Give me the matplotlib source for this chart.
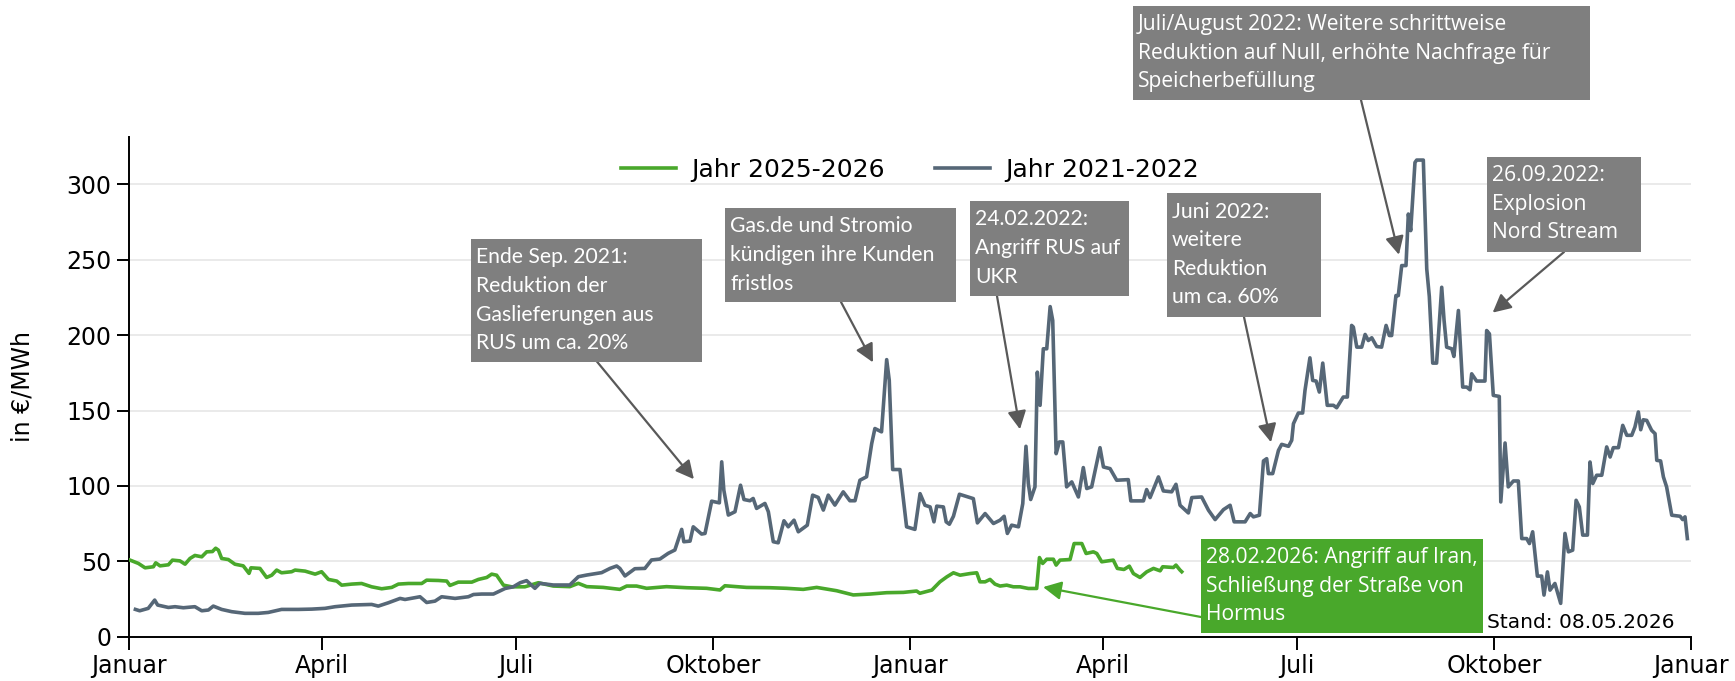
import numpy as np
import pandas as pd
import matplotlib
matplotlib.use("Agg")
import matplotlib.pyplot as plt
from matplotlib.patches import Rectangle

# ---------------------------------------------------------
# Data (x = Tage seit 1. Januar des ersten Jahres, y = EUR/MWh)
# ---------------------------------------------------------
days_2021 = [3, 5, 9, 12, 13.4, 18.4, 21.5, 25.4, 30.8, 34, 37.1, 39.4, 43.3, 48, 54.2, 60.4,
             65.1, 71.3, 79.1, 85.4, 91.6, 96.3, 104.1, 113.4, 116.5, 121.2, 126.7, 129, 136,
             139.1, 143, 146.1, 152.4, 158.6, 161, 164.8, 170.3, 175.8, 179.6, 182.8,
             185.8, 189.7, 192, 198.3, 206, 210, 213.9, 220.9, 224.8, 227.9, 229.4, 231.8,
             236.4, 241.1, 244.2, 248.1, 252, 255.1, 258.3, 259.3, 262.2, 263.7, 267.6, 269.2,
             272.3, 275.9, 277, 278, 280.1, 283.2, 285.8, 287.4, 290.2, 291.7, 293.3, 297.2,
             298.8, 301.1, 303.4, 306.1, 308.1, 310.8, 312.8, 317, 319.5, 322.1, 324.5, 326.8,
             329.9, 333.8, 336.9, 339.3, 341.6, 344.7, 347.1, 348.6, 351.7, 354.1, 355.3,
             356.9, 360.3, 363.4, 367.3,
             369.7, 372, 374.4, 376.2, 377.5, 380.6, 381.9, 383.4, 385.3, 388.1, 394.6, 396.5,
             400.1, 404, 407.1, 409, 410.5, 412.5, 415.7, 417.7, 419.2, 420.3, 421.4, 423.4,
             424.5, 425.8, 427.3, 428.9, 430.5, 431.7, 433.3, 434.8, 436.4, 438.2, 440.6,
             443.7, 446, 447.6, 449.9, 453.8, 455.4, 458.5, 461.6, 467, 468.2, 474.1, 475.6,
             477.2, 481.1, 483.4, 487.3, 489.3, 491.2, 495.1, 496.7, 501.3, 504.5, 507.6,
             511.5, 514.6, 516.5, 521.6, 524, 525.5, 528.3, 530.2, 531.7, 532.5, 534.5, 537.2,
             538.7, 541.9, 543.4,
             544.2, 546.5, 548.5, 549.6, 551.9, 553.2, 554.8, 556.3, 557.9, 560, 562.9, 564.4,
             567.5, 569.4, 571.4, 572.2, 573.8, 576.1, 577.7, 579.2, 580.8, 583.1, 585.4,
             587.5, 589, 590.1, 592.1, 593.2, 594.8, 596.8, 597.9, 599, 601, 601.8, 604.9,
             606.5, 607.7, 609.3, 611.1, 613.5, 614.6, 615.8, 618.2, 619.2, 621.3, 623.3,
             625.2, 626.7, 627.5, 629.8, 633.7, 634.5, 635.8, 637.6, 640.4, 641.1, 643.1,
             644.6, 647, 649.3, 650.9, 653.2, 654.5, 656, 658.2, 660.2, 661.3, 662.9, 664.1,
             666.4, 669.1, 671.1, 672.7, 674.7, 676.3, 677.8, 679.4, 681.6, 682.8, 684.1,
             685.9, 688.3, 690.6, 692.2, 693.7, 696.1, 698.1, 700, 702.3, 703.8, 705.4, 706.5,
             707.7, 709.3, 711.6, 713.2, 714, 715.8, 717.1, 718.6, 721, 724.9, 726.1, 727.2,
             728.3]
price_2021 = [18.1, 17.2, 18.8, 24.3, 21, 19.4, 19.9, 19.2, 19.9, 17.2, 17.7, 20.3, 18.1, 16.6,
              15.5, 15.5, 16.1, 18.1, 18.1, 18.3, 18.8, 19.9, 21, 21.4, 20.3, 22.5, 25.4, 24.7,
              26.5, 22.7, 23.6, 26.5, 25.4, 26.5, 28, 28.3, 28.3, 32, 33.1, 35.8,
              37.2, 32.1, 35.4, 34.3, 34.3, 39.8, 40.9, 42.5, 45.3, 46.9, 45.3, 40.3,
              45.1, 45.3, 50.9, 51.5, 55.3, 57.5, 71.2, 63, 63.4, 72.9, 68.1, 68.5,
              89.9, 88.8, 116, 97.2, 80.7, 82.9, 100.5, 91, 90.2, 91.7, 85.1, 88.4,
              82.9, 63, 62.3, 76.9, 72.9, 77.3, 69.6, 74, 93.9, 92.4, 84, 93.9,
              87.3, 96.1, 90.2, 90.2, 103.8, 106.1, 128.1, 138.1, 135.9, 183.8, 170.1,
              110.9, 110.9, 72.9, 71.2,
              94.9, 87.2, 86.1, 76.2, 86.6, 86.1, 76.2, 74.6, 79.9, 94.5, 91.6, 75.5,
              81.7, 75.1, 77.3, 79.9, 68.5, 74, 72.9, 88.3, 126.3, 101.6, 91, 99.4,
              175.5, 153.5, 191, 191, 219, 209.8, 121.4, 129.2, 129.2, 99.4, 102.7,
              92.7, 112.2, 98.3, 99.4, 125.4, 112.6, 111.5, 103.8, 104.2, 90.1, 90.1, 97.6,
              92.3, 106, 96.7, 96.1, 101.1, 87.2, 82.1, 92.3, 92.7, 83.9, 77.7,
              84.3, 87.2, 76.2, 76.2, 81.7, 79.5, 80.6, 116.6, 118.1, 108.2, 108.2, 123.6,
              127.6, 126.3, 130.3,
              141.3, 148.4, 148.4, 163.4, 185, 170, 169.6, 162.3, 181.5, 153.5, 153.5, 151.9,
              159, 159, 206.5, 205.4, 192.1, 192.1, 200.5, 196.5, 198.3, 192.5, 192.1,
              206.5, 199.8, 199.8, 226.3, 226.3, 246.2, 246.2, 280.4, 269.4, 314.6, 316.2, 316.2,
              244, 225.7, 181.5, 181.5, 231.8, 209.8, 192.1, 191, 185.9, 216.4, 165.6,
              165.6, 163.8, 174.4, 169.6, 169.6, 203.1, 200.9, 160.1, 159.4, 89.4, 128.5,
              99.4, 103.3, 103.3, 65.1, 65.1, 61.8, 69.6, 40.2, 40.2, 27.6, 43, 30.9,
              35.3, 22.1, 68.5, 56.3, 57.4, 90.5, 86.1, 67.4, 67.4, 115.9, 101.6,
              107.1, 107.1, 125.9, 119.2, 125.4, 125.4, 140.2, 133.6, 133.6, 139.1, 149.1, 137.3,
              143.9, 143.5, 136.9, 134.7, 117, 116.6, 106, 99.4, 80.6, 79.9, 77.7, 79.5,
              65.1]

days_2025 = [0.5, 4.4, 7.5, 11.4, 12.5, 14.5, 18.4, 20.3, 23.8, 26.2, 28.5, 30.8, 34, 36.3, 39,
             40.5, 41.8, 43.3, 46.4, 49.5, 53.4, 56.1, 57, 61.2, 64.3, 66.7, 69, 71.3, 76, 77.6,
             82.3, 87, 90, 93.2, 97.1, 99.4, 104.1, 108.7, 113.4, 118.1, 122.8, 125.9, 130.6,
             136.8, 139.1, 144.6, 148.5, 150, 153.9, 160.2, 163.3, 167.2, 169.5, 171.8, 175,
             178.8, 185, 191.3, 198.3, 206, 210, 213.9, 221.6, 229.4, 232.6, 237.2, 241.9,
             251.2, 260.6, 269.9, 276.2, 278.5, 288.6, 299.5, 307.3, 315.1, 321.4, 330.7,
             338.5, 346.3, 354.1, 361.9, 368.1, 369.6, 375.2, 379, 382.2, 385.3, 388.4, 393.1,
             396.2, 397.7, 400.1, 402.4, 404.7, 407.1, 410.2, 413.3, 416.4, 420.3, 424.2,
             425.5, 427, 428.9, 432, 433.3, 435.1, 439.8, 441.7, 445.3, 447.3, 450.7, 452.3,
             454.6, 460, 461.9, 465, 467.5, 469.4, 472.5, 475.6, 478.8, 481.9, 483.1, 488.1,
             489.3, 491.2, 492]
price_2025 = [50.8, 48.6, 45.7, 46.4, 49, 47, 47.7, 50.8, 50.3, 48.1, 51.9, 53.9, 53, 56.3, 56.5,
              58.7, 57.4, 51.9, 51.2, 48.1, 47, 42, 45.7, 45.3, 39.3, 40.8, 44.2, 42.4, 43.1, 44.2,
              43.5, 41.5, 43.1, 38, 36.9, 34.2, 34.9, 35.3, 33.1, 31.8, 32.7, 34.9, 35.3,
              35.3, 37.5, 37.3, 36.9, 34, 36.2, 36.2, 38, 39.3, 41.5, 40.8, 34.2,
              33.1, 33.1, 35.8, 33.6, 33.2, 35.4, 33.2, 32.7, 31.4, 33.6, 33.6, 32.1,
              33.2, 32.5, 32.1, 31, 33.8, 32.7, 32.5, 32.1, 31.4, 32.7, 30.5,
              27.7, 28.3, 29.2, 29.4, 30.3, 28.8, 30.9, 36.4, 39.7, 42.4, 40.8, 41.9,
              42.4, 36.4, 36.4, 38, 34.9, 33.6, 34.2, 33.1, 33.1, 32, 32,
              52.5, 48.6, 51.4, 51.4, 47.5, 50.8, 51.2, 61.8, 61.8, 55.2, 56.3, 55.2,
              49.7, 50.8, 45.3, 44.6, 46.8, 41.9, 39.3, 43, 45.3, 43.7, 46.4, 45.9,
              47.5, 44.2, 43.1]

month_labels = ['Januar', 'April', 'Juli', 'Oktober', 'Januar', 'April', 'Juli', 'Oktober', 'Januar']
y_ticks = [0, 50, 100, 150, 200, 250, 300]

# Ereignis-Kaesten: Text, Ereignis (Tag, Wert)
events = [
    (['Ende Sep. 2021:', 'Reduktion der', 'Gaslieferungen aus', 'RUS um ca. 20%'], (264, 104.5)),
    (['Gas.de und Stromio', 'kündigen ihre Kunden', 'fristlos'], (347.7, 182)),
    (['24.02.2022:', 'Angriff RUS auf', 'UKR'], (416.4, 137.6)),
    (['Juni 2022:', 'weitere', 'Reduktion', 'um ca. 60%'], (533.7, 129)),
    (['Juli/August 2022: Weitere schrittweise', 'Reduktion auf Null, erhöhte Nachfrage für',
      'Speicherbefüllung'], (593.5, 253.4)),
    (['26.09.2022:', 'Explosion', 'Nord Stream'], (637.3, 215)),
    (['28.02.2026: Angriff auf Iran,', 'Schließung der Straße von', 'Hormus'], (427.2, 32.9)),
]
# Kasten-Layout in Pixeln: (links, oben, rechts, unten), Pfeilstart, Schrift
boxes = [
    ((471, 239, 702, 362), (594, 358), 'Lato'),
    ((725, 208, 956, 302), (841, 302), 'Lato'),
    ((970, 201, 1129, 296), (997, 296), 'Lato'),
    ((1167, 193, 1321, 317), (1244, 317), 'Lato'),
    ((1133, 6, 1590, 100), (1361, 100), 'Open Sans'),
    ((1487, 157, 1641, 252), (1564, 252), 'Open Sans'),
    ((1201, 539, 1483, 633), (1201, 617), 'Open Sans'),
]

GREEN = '#49a82b'
GRAY_LINE = '#566777'
BOX_GRAY = '#7f7f7f'
ARROW_GRAY = '#595959'

W, H = 1735, 681
plt.rcParams['font.family'] = 'DejaVu Sans'

fig = plt.figure(figsize=(W / 100, H / 100), dpi=100)
ax = fig.add_axes([129 / W, 1 - 636.7 / H, 1562 / W, 499.7 / H])

ax.plot(days_2025, price_2025, color=GREEN, lw=2.6, label='Jahr 2025-2026', zorder=3)
ax.plot(days_2021, price_2021, color=GRAY_LINE, lw=2.6, label='Jahr 2021-2022', zorder=3)

quarters = pd.date_range('2021-01-01', '2023-01-01', freq='QS')
tick_days = [(d - quarters[0]).days for d in quarters]
ax.set_xticks(tick_days)
ax.set_xticklabels(month_labels)
ax.set_xticks([365, 730], minor=True)
ax.set_xlim(0, 730)
ax.set_yticks(y_ticks)
ax.set_ylim(0, 331.5)

ax.yaxis.grid(True, color='#e6e6e6', lw=1.2, zorder=0)
ax.xaxis.grid(True, which='minor', color='#e6e6e6', lw=1.2, zorder=0)
ax.set_axisbelow(True)
ax.tick_params(axis='both', which='major', labelsize=17, length=9, width=1.4)
ax.tick_params(axis='x', which='minor', length=0)
for s in ['top', 'right']:
    ax.spines[s].set_visible(False)
for s in ['left', 'bottom']:
    ax.spines[s].set_linewidth(1.4)

ax.set_ylabel('in €/MWh', fontsize=17, va='center')
ax.yaxis.set_label_coords(-0.0685, 0.5)

ax.legend(loc='center', bbox_to_anchor=(0.5, 0.934), ncol=2, frameon=False, fontsize=18,
          handlelength=2.2, handletextpad=0.6, columnspacing=2.0)

# Ereignis-Kaesten mit Pfeilen
for i, ((lines, tip), (rect, start, fam)) in enumerate(zip(events, boxes)):
    x0, y0, x1, y1 = rect
    face = GREEN if i == 6 else BOX_GRAY
    fig.add_artist(Rectangle((x0 / W, 1 - y1 / H), (x1 - x0) / W, (y1 - y0) / H,
                             transform=fig.transFigure, facecolor=face, edgecolor='none', zorder=5))
    for j, line in enumerate(lines):
        yc = y0 + 18.5 + j * 28.6
        fig.text((x0 + 5) / W, 1 - yc / H, line, color='white', fontsize=15.2, family=fam,
                 ha='left', va='center', zorder=6)
    ax.annotate('', xy=tip, xycoords='data',
                xytext=(start[0] / W, 1 - start[1] / H), textcoords='figure fraction',
                arrowprops=dict(arrowstyle='-|>,head_length=0.55,head_width=0.28',
                                mutation_scale=20, lw=1.6,
                                color=GREEN if i == 6 else ARROW_GRAY,
                                shrinkA=0, shrinkB=0), zorder=4)

fig.text(1674 / W, 1 - 622 / H, 'Stand: 08.05.2026', fontsize=14.5, ha='right', va='center')

fig.savefig('out.png', dpi=100)
